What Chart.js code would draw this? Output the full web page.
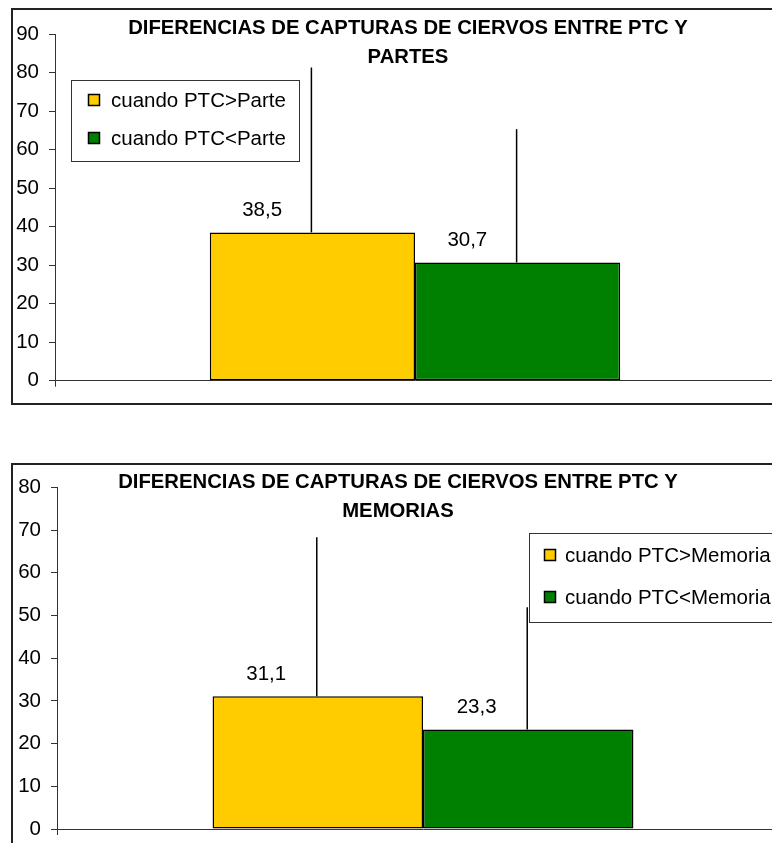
<!DOCTYPE html>
<html lang="es">
<head>
<meta charset="UTF-8">
<title>Diferencias de capturas de ciervos</title>
<script src="https://cdn.jsdelivr.net/npm/chart.js"></script>
<style>
    body { margin: 0; background: #fff; overflow: hidden; width: 772px; height: 843px; position: relative; }
    .marco { position: absolute; left: 11px; width: 800px; border: 2px solid #222; background: #fff; }
    #marco1 { top: 8px; height: 393px; }
    #marco2 { top: 463px; height: 400px; }
    canvas { display: block; }
</style>
</head>
<body>
<div class="marco" id="marco1"><canvas id="grafico1" width="800" height="393" style="width:800px;height:393px"></canvas></div>
<div class="marco" id="marco2"><canvas id="grafico2" width="800" height="400" style="width:800px;height:400px"></canvas></div>
<script>
    // datos
    const categorias = [''];
    const colores = ['#FFCC00', '#008000'];

    const titulo1 = ['DIFERENCIAS DE CAPTURAS DE CIERVOS ENTRE PTC Y', 'PARTES'];
    const series1 = ['cuando PTC>Parte', 'cuando PTC<Parte'];
    const valores1 = [38.5, 30.7];
    const errores1 = [42.8, 34.6];
    const maxY1 = 90;

    const titulo2 = ['DIFERENCIAS DE CAPTURAS DE CIERVOS ENTRE PTC Y', 'MEMORIAS'];
    const series2 = ['cuando PTC>Memoria', 'cuando PTC<Memoria'];
    const valores2 = [31.1, 23.3];
    const errores2 = [37.2, 28.6];
    const maxY2 = 80;

    const pasoY = 10;
    const fuente = '"Liberation Sans", Arial, sans-serif';

    Chart.defaults.font.family = fuente;
    Chart.defaults.font.size = 20;
    Chart.defaults.color = '#000';

    // barras de error, etiquetas, titulo y leyenda dentro del area
    const extras = {
        id: 'extras',
        afterDatasetsDraw(chart) {
            const ctx = chart.ctx;
            const y = chart.scales.y;
            ctx.save();
            chart.data.datasets.forEach((ds, i) => {
                const bar = chart.getDatasetMeta(i).data[0];
                const v = ds.data[0];
                ctx.strokeStyle = '#000';
                ctx.lineWidth = 1.5;
                ctx.beginPath();
                ctx.moveTo(bar.x - 1, bar.y);
                ctx.lineTo(bar.x - 1, y.getPixelForValue(v + ds.error));
                ctx.stroke();

                ctx.fillStyle = '#000';
                ctx.font = '20.5px ' + fuente;
                ctx.textAlign = 'center';
                ctx.textBaseline = 'middle';
                ctx.fillText(String(v).replace('.', ','), bar.x - bar.width * 0.245, bar.y - 22);
            });
            ctx.restore();
        },
        afterDraw(chart, args, opts) {
            const ctx = chart.ctx;
            ctx.save();
            // titulo
            ctx.fillStyle = '#000';
            ctx.font = 'bold 20.3px ' + fuente;
            ctx.textAlign = 'center';
            ctx.textBaseline = 'middle';
            opts.titulo.forEach((t, i) => ctx.fillText(t, opts.tituloX, opts.tituloY + i * 29));

            // leyenda
            const l = opts.leyenda;
            ctx.fillStyle = '#fff';
            ctx.fillRect(l.x, l.y, l.w, l.h);
            ctx.strokeStyle = '#333';
            ctx.lineWidth = 1;
            ctx.strokeRect(l.x + 0.5, l.y + 0.5, l.w, l.h);
            ctx.font = '20.5px ' + fuente;
            ctx.textAlign = 'left';
            chart.data.datasets.forEach((ds, i) => {
                const fy = l.y + l.fila0 + i * l.paso;
                ctx.fillStyle = ds.backgroundColor;
                ctx.fillRect(l.x + l.cuadro, fy - 6, 12, 12);
                ctx.strokeStyle = '#000';
                ctx.lineWidth = 1.5;
                ctx.strokeRect(l.x + l.cuadro + 0.5, fy - 5.5, 11, 11);
                ctx.fillStyle = '#000';
                ctx.fillText(ds.label, l.x + l.texto, fy + 1);
            });
            ctx.restore();
        }
    };

    function crearGrafico(id, series, valores, errores, maxY, catPct, padding, anchoEje, extrasOpts) {
        return new Chart(document.getElementById(id), {
            type: 'bar',
            data: {
                labels: categorias,
                datasets: series.map((s, i) => ({
                    label: s,
                    data: [valores[i]],
                    error: errores[i],
                    backgroundColor: colores[i],
                    borderColor: '#000',
                    borderWidth: 1.5,
                    borderSkipped: false,
                    categoryPercentage: catPct,
                    barPercentage: 1
                }))
            },
            options: {
                responsive: false,
                animation: false,
                layout: { padding: padding },
                plugins: {
                    legend: { display: false },
                    tooltip: { enabled: false },
                    extras: extrasOpts
                },
                scales: {
                    x: {
                        grid: { offset: true, drawOnChartArea: false, tickLength: 6, color: '#333' },
                        border: { color: '#333', width: 1 },
                        ticks: { display: false }
                    },
                    y: {
                        min: 0,
                        max: maxY,
                        ticks: { stepSize: pasoY, padding: 10, font: { size: 20.5 } },
                        grid: { drawOnChartArea: false, tickLength: 6, color: '#333' },
                        border: { color: '#333', width: 1 },
                        afterFit: s => { s.width = anchoEje; }
                    }
                }
            },
            plugins: [extras]
        });
    }

    crearGrafico('grafico1', series1, valores1, errores1, maxY1, 0.57,
        { top: 24, right: 38, bottom: 13, left: 0 }, 42,
        { titulo: titulo1, tituloX: 395, tituloY: 18,
          leyenda: { x: 58, y: 70, w: 228, h: 81, fila0: 20, paso: 38, cuadro: 17, texto: 40 } });

    crearGrafico('grafico2', series2, valores2, errores2, maxY2, 0.575,
        { top: 22, right: 24, bottom: 30, left: 0 }, 44,
        { titulo: titulo2, tituloX: 385, tituloY: 17,
          leyenda: { x: 516, y: 68, w: 300, h: 89, fila0: 22, paso: 42, cuadro: 15, texto: 36 } });
</script>
</body>
</html>
